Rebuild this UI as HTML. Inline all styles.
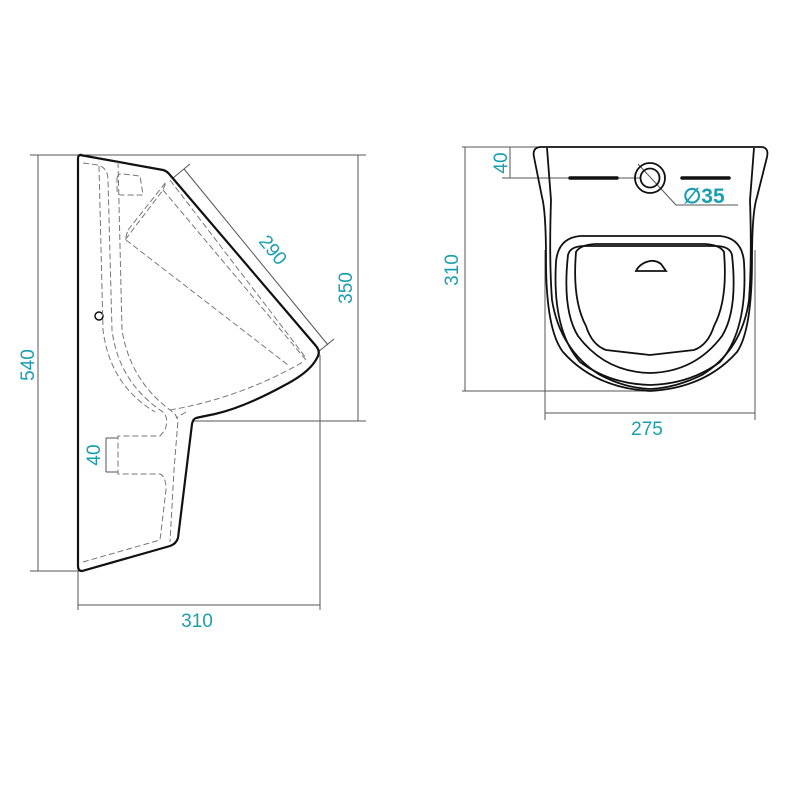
<!DOCTYPE html>
<html><head><meta charset="utf-8"><style>
html,body{margin:0;padding:0;background:#fff;}
svg{display:block;}
text{font-family:"Liberation Sans",sans-serif;fill:#1a9fb0;font-size:19px;}
</style></head><body>
<svg width="800" height="800" viewBox="0 0 800 800" xmlns="http://www.w3.org/2000/svg">
<rect width="800" height="800" fill="#fff"/>
<g stroke="#555" stroke-width="1" fill="none">
<line x1="30" y1="155" x2="366" y2="155"/>
<line x1="30" y1="571" x2="80" y2="571"/>
<line x1="38" y1="155" x2="38" y2="571"/>
<line x1="358" y1="155" x2="358" y2="421"/>
<line x1="193" y1="421" x2="366" y2="421"/>
<line x1="320" y1="355" x2="320" y2="610"/>
<line x1="78" y1="571" x2="78" y2="610"/>
<line x1="78" y1="605" x2="320" y2="605"/>
<line x1="184" y1="169" x2="328" y2="345"/>
<line x1="173" y1="178" x2="190" y2="164"/>
<line x1="318" y1="352" x2="334" y2="339"/>
<line x1="106" y1="438" x2="106" y2="472"/>
<line x1="106" y1="438" x2="118" y2="438"/>
<line x1="106" y1="472" x2="118" y2="472"/>
</g>
<path d="M80,155 L163,170 Q167,171 170,175 L316,346 Q321,352 317,358 Q310,372 285,385 Q245,407 215,414 Q200,417 196,418 Q193,419 192,424 L178,538 Q176,544 170,546 L82,571 Q78,571 78,566 L78,159 Q78,154 82,155 Z" fill="none" stroke="#111" stroke-width="2.2"/>
<circle cx="99" cy="316" r="4" fill="none" stroke="#111" stroke-width="1.5"/>
<g stroke="#777" stroke-width="1" fill="none" stroke-dasharray="6,3">
<path d="M83,163 L98,165 Q108,168 108,180 L112,330 Q118,380 160,410 Q170,415 165,430 L160,436 L118,436 L118,474 L160,474 Q166,476 166,490 L160,540 L83,562"/>
<path d="M118,162 L122,330 Q130,380 170,410 L175,414 L178,420 L174,470 L170,542"/>
<path d="M99,166 L103,330 Q110,385 155,412"/>
<path d="M117,178 Q118,173 123,174 L140,176 L143,195 L121,195 Q117,195 117,190 Z"/>
<path d="M128,230 L166,182 L163,190 L125,240 Z"/>
<path d="M126,240 L288,365"/>
<path d="M163,190 L306,360"/>
<path d="M170,180 L306,358"/>
<path d="M170,410 Q240,398 303,362"/>
<path d="M186,412 L176,418"/>
</g>
<text transform="translate(34,365) rotate(-90)" text-anchor="middle">540</text>
<text transform="translate(352,288) rotate(-90)" text-anchor="middle">350</text>
<text transform="translate(268,254) rotate(51)" text-anchor="middle">290</text>
<text transform="translate(100,455) rotate(-90)" text-anchor="middle">40</text>
<text x="197" y="627" text-anchor="middle">310</text>

<g stroke="#555" stroke-width="1" fill="none">
<line x1="462" y1="147" x2="545" y2="147"/>
<line x1="465" y1="147" x2="465" y2="391"/>
<line x1="462" y1="391" x2="650" y2="391"/>
<line x1="510" y1="147" x2="510" y2="178"/>
<line x1="502" y1="178" x2="640" y2="178"/>
<line x1="545" y1="250" x2="545" y2="420"/>
<line x1="755" y1="250" x2="755" y2="420"/>
<line x1="545" y1="413" x2="755" y2="413"/>
<line x1="638" y1="164" x2="676" y2="205"/>
<line x1="676" y1="205" x2="738" y2="205"/>
</g>
<g stroke="#111" stroke-width="1.8" fill="none">
<path d="M540,147 L762,147 Q769,148 767,157 L757,197 Q752,212 752,260 Q752,330 737,352 Q705,388 650,391 Q595,388 563,352 Q546,330 546,260 Q546,212 542,197 L534,157 Q532,148 540,147 Z"/>
<path d="M547,148 L551,200 Q549,260 552,300 Q560,350 600,375 Q625,388 650,389"/>
<path d="M754,148 L750,200 Q752,260 749,300 Q742,350 702,375 Q675,388 650,389"/>
<path d="M556,262 Q558,238 580,236 L720,236 Q742,238 744,262 Q748,330 720,362 Q690,384 650,385 Q610,384 580,362 Q552,330 556,262 Z"/>
<path d="M568,255 Q570,246 585,246 L715,246 Q730,246 732,255 Q738,310 722,336 Q695,372 650,373 Q605,372 578,336 Q562,310 568,255 Z"/>
<path d="M576,252 Q580,245 595,244 L705,244 Q720,245 724,252 Q728,300 714,326 Q708,345 694,350 L650,355 L606,350 Q592,345 586,326 Q572,300 576,252 Z"/>
<path d="M636,271 Q640,263 650,261 Q656,260 661,264 L666,271 Z"/>
<circle cx="650" cy="178" r="15"/>
<circle cx="650" cy="178" r="9.5"/>
</g>
<line x1="570" y1="178" x2="617" y2="178" stroke="#111" stroke-width="3.5" stroke-linecap="round"/>
<line x1="682" y1="178" x2="729" y2="178" stroke="#111" stroke-width="3.5" stroke-linecap="round"/>
<text transform="translate(507,163) rotate(-90)" text-anchor="middle">40</text>
<text transform="translate(458,270) rotate(-90)" text-anchor="middle">310</text>
<text x="647" y="435" text-anchor="middle">275</text>
<text x="683" y="203" style="font-weight:bold;font-size:21px">&#8709;35</text>
</svg>
</body></html>
